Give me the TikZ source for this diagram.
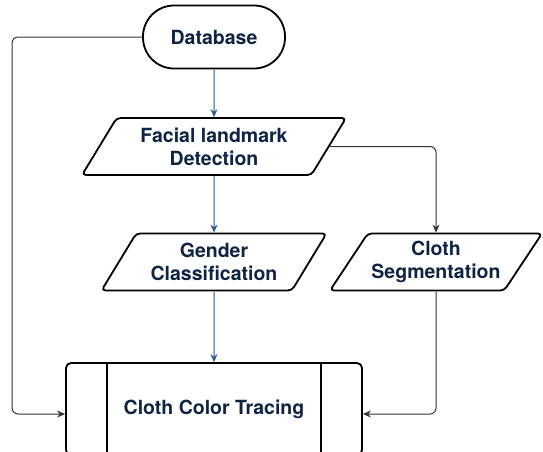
\documentclass[tikz,border=0pt]{standalone}
\usepackage{fontspec}
\setmainfont{TeX Gyre Heros}
\usetikzlibrary{shapes.geometric,arrows.meta}
\definecolor{inkblue}{HTML}{0F2342}
\definecolor{flowblue}{HTML}{2E5A8C}
\definecolor{flowgray}{HTML}{333333}

\begin{document}
\begin{tikzpicture}[x=1pt, y=-1pt,
    every node/.style={font=\fontsize{19.5}{23}\selectfont\bfseries, text=inkblue, align=center},
    terminal/.style={rectangle, draw, line width=1.8pt, rounded corners=31pt, minimum width=142pt, minimum height=63pt},
    data/.style={trapezium, trapezium left angle=52, trapezium right angle=128, trapezium stretches body, draw, line width=1.8pt, rounded corners=4pt, minimum height=57pt},
    process/.style={rectangle, draw, line width=1.8pt, rounded corners=5pt, minimum width=296pt, minimum height=92pt},
    arrow/.style={-{Stealth[length=8pt,width=7pt]}, line width=1pt, draw=flowblue},
    link/.style={-{Stealth[length=8pt,width=7pt]}, line width=1pt, draw=flowgray, rounded corners=6pt}
]
    \useasboundingbox (0,0) rectangle (543,451);

    \node[terminal] (db) at (214,37) {Database};
    \node[data, minimum width=264pt] (fld) at (214,146.5) {Facial landmark\\Detection};
    \node[data, minimum width=225pt] (gender) at (214,262) {Gender\\Classification};
    \node[data, minimum width=212pt] (seg) at (436,262) {Cloth\\Segmentation};
    \node[process] (cct) at (214,409) {Cloth Color Tracing};
    \draw[line width=1.8pt] ([xshift=42pt]cct.north west) -- ([xshift=42pt]cct.south west);
    \draw[line width=1.8pt] ([xshift=-42pt]cct.north east) -- ([xshift=-42pt]cct.south east);

    \draw[arrow] (db) -- (fld);
    \draw[arrow] (fld) -- (gender);
    \draw[arrow] (gender) -- (cct);
    \draw[link] (fld.east) -| (seg.north);
    \draw[link] (seg.south) |- ([yshift=-5pt]cct.east);
    \draw[link] (db.west) -- ++(-130,0) |- ([yshift=-5pt]cct.west);
\end{tikzpicture}
\end{document}
